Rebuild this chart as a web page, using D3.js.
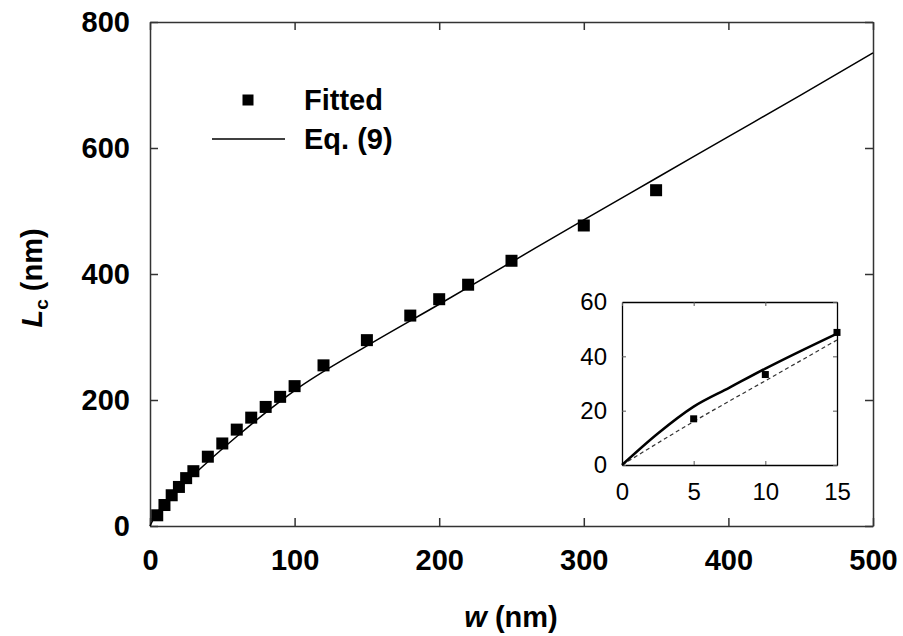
<!DOCTYPE html>
<html>
<head>
<meta charset="utf-8">
<script src="https://cdn.jsdelivr.net/npm/d3@7"></script>
<style>
  body { margin: 0; background: #fff; }
  svg text { font-family: "Liberation Sans", Arial, sans-serif; fill: #000; }
</style>
</head>
<body>
<div id="chart"></div>
<script>
// fitted points
const fittedW = [5, 10, 15, 20, 25, 30, 40, 50, 60, 70, 80, 90, 100, 120, 150, 180, 200, 220, 250, 300, 350];
const fittedL = [17, 33.3, 48.8, 62, 76, 87, 110, 131, 153, 172, 189, 205, 222, 255, 295, 334, 360, 383, 421, 477, 533];
// Eq. (9) curve
const eqW = [0, 2.5, 5, 7.5, 10, 15, 20, 30, 40, 60, 80, 100, 150, 200, 250, 300, 350, 400, 450, 500];
const eqL = [0, 11.6, 21.5, 28.5, 35.5, 48.4, 60, 81, 102, 142, 180, 215, 286, 352, 419, 486, 552, 618, 684, 751];
// dashed line in the inset
const dashW = [0, 5, 10, 15];
const dashL = [0, 16, 31, 46];

const xTicks = [0, 100, 200, 300, 400, 500];
const yTicks = [0, 200, 400, 600, 800];
const insetXTicks = [0, 5, 10, 15];
const insetYTicks = [0, 20, 40, 60];

const width = 903, height = 636;
const mLeft = 150, mTop = 22, mRight = 873, mBottom = 526;

const svg = d3.select("#chart").append("svg")
  .attr("width", width)
  .attr("height", height);

const x = d3.scaleLinear().domain([0, 500]).range([mLeft, mRight]);
const y = d3.scaleLinear().domain([0, 800]).range([mBottom, mTop]);

function styleAxis(g, size) {
  g.selectAll(".domain").attr("stroke", "#333").attr("stroke-width", 1.5);
  g.selectAll(".tick line").attr("stroke", "#333").attr("stroke-width", 1.5);
  g.selectAll(".tick text")
    .attr("font-family", "Liberation Sans, Arial, sans-serif")
    .attr("font-size", size);
}

// main axes, ticks pointing inward
svg.append("g")
  .attr("transform", `translate(0,${mBottom})`)
  .call(d3.axisBottom(x).tickValues(xTicks).tickSizeInner(-8).tickSizeOuter(0).tickPadding(23))
  .call(g => styleAxis(g, 29))
  .selectAll(".tick text").attr("font-weight", "bold");

svg.append("g")
  .attr("transform", `translate(${mLeft},0)`)
  .call(d3.axisLeft(y).tickValues(yTicks).tickSizeInner(-8).tickSizeOuter(0).tickPadding(20))
  .call(g => styleAxis(g, 29))
  .selectAll(".tick text").attr("font-weight", "bold");

svg.append("g")
  .attr("transform", `translate(0,${mTop})`)
  .call(d3.axisTop(x).tickValues(xTicks).tickSizeInner(-8).tickSizeOuter(0).tickFormat(""))
  .call(g => styleAxis(g, 29));

svg.append("g")
  .attr("transform", `translate(${mRight},0)`)
  .call(d3.axisRight(y).tickValues(yTicks).tickSizeInner(-8).tickSizeOuter(0).tickFormat(""))
  .call(g => styleAxis(g, 29));

// Eq. (9) line
const eqData = eqW.map((w, i) => [w, eqL[i]]);
const line = d3.line().x(d => x(d[0])).y(d => y(d[1])).curve(d3.curveMonotoneX);
svg.append("path")
  .datum(eqData)
  .attr("fill", "none")
  .attr("stroke", "#000")
  .attr("stroke-width", 1.5)
  .attr("d", line);

// fitted squares
const ms = 12;
svg.append("g")
  .selectAll("rect")
  .data(fittedW.map((w, i) => [w, fittedL[i]]))
  .enter()
  .append("rect")
  .attr("x", d => x(d[0]) - ms / 2)
  .attr("y", d => y(d[1]) - ms / 2)
  .attr("width", ms)
  .attr("height", ms)
  .attr("fill", "#000");

// axis titles
const xt = svg.append("text")
  .attr("x", 511)
  .attr("y", 627)
  .attr("text-anchor", "middle")
  .attr("font-size", 29)
  .attr("font-weight", "bold");
xt.append("tspan").attr("font-style", "italic").text("w");
xt.append("tspan").text(" (nm)");

const yt = svg.append("text")
  .attr("transform", "translate(42,278) rotate(-90)")
  .attr("text-anchor", "middle")
  .attr("font-size", 29)
  .attr("font-weight", "bold");
yt.append("tspan").attr("font-style", "italic").text("L");
yt.append("tspan").attr("font-size", 19).attr("dy", 6).text("c");
yt.append("tspan").attr("dy", -6).text(" (nm)");

// legend
svg.append("rect")
  .attr("x", 248 - 5.5).attr("y", 100 - 5.5)
  .attr("width", 11).attr("height", 11)
  .attr("fill", "#000");
svg.append("text")
  .attr("x", 304).attr("y", 110)
  .attr("font-size", 29).attr("font-weight", "bold")
  .text("Fitted");
svg.append("line")
  .attr("x1", 212).attr("x2", 285)
  .attr("y1", 139).attr("y2", 139)
  .attr("stroke", "#000").attr("stroke-width", 1.5);
svg.append("text")
  .attr("x", 304).attr("y", 149)
  .attr("font-size", 29).attr("font-weight", "bold")
  .text("Eq. (9)");

// inset
const il = 622, ir = 837, it = 302, ib = 465;
const ix = d3.scaleLinear().domain([0, 15]).range([il, ir]);
const iy = d3.scaleLinear().domain([0, 60]).range([ib, it]);

const inset = svg.append("g");
inset.append("rect")
  .attr("x", il).attr("y", it)
  .attr("width", ir - il).attr("height", ib - it)
  .attr("fill", "#fff");

function styleInset(g) {
  g.selectAll(".domain").attr("stroke", "#000").attr("stroke-width", 1.3);
  g.selectAll(".tick line").attr("stroke", "#555").attr("stroke-width", 1);
  g.selectAll(".tick text")
    .attr("font-family", "Liberation Sans, Arial, sans-serif")
    .attr("font-size", 24);
}

inset.append("g")
  .attr("transform", `translate(0,${ib})`)
  .call(d3.axisBottom(ix).tickValues(insetXTicks).tickSizeInner(-4).tickSizeOuter(0).tickPadding(18))
  .call(styleInset);
inset.append("g")
  .attr("transform", `translate(${il},0)`)
  .call(d3.axisLeft(iy).tickValues(insetYTicks).tickSizeInner(-4).tickSizeOuter(0).tickPadding(15))
  .call(styleInset);
inset.append("g")
  .attr("transform", `translate(0,${it})`)
  .call(d3.axisTop(ix).tickValues(insetXTicks).tickSizeInner(-4).tickSizeOuter(0).tickFormat(""))
  .call(styleInset);
inset.append("g")
  .attr("transform", `translate(${ir},0)`)
  .call(d3.axisRight(iy).tickValues(insetYTicks).tickSizeInner(-4).tickSizeOuter(0).tickFormat(""))
  .call(styleInset);

const iline = d3.line().x(d => ix(d[0])).y(d => iy(d[1])).curve(d3.curveMonotoneX);
inset.append("path")
  .datum(dashW.map((w, i) => [w, dashL[i]]))
  .attr("fill", "none")
  .attr("stroke", "#333")
  .attr("stroke-width", 1.2)
  .attr("stroke-dasharray", "4,3")
  .attr("d", iline);
inset.append("path")
  .datum(eqData.filter(d => d[0] <= 15))
  .attr("fill", "none")
  .attr("stroke", "#000")
  .attr("stroke-width", 2.5)
  .attr("d", iline);

const ims = 7;
inset.append("g")
  .selectAll("rect")
  .data(fittedW.map((w, i) => [w, fittedL[i]]).filter(d => d[0] <= 15))
  .enter()
  .append("rect")
  .attr("x", d => ix(d[0]) - ims / 2)
  .attr("y", d => iy(d[1]) - ims / 2)
  .attr("width", ims)
  .attr("height", ims)
  .attr("fill", "#000");
</script>
</body>
</html>
